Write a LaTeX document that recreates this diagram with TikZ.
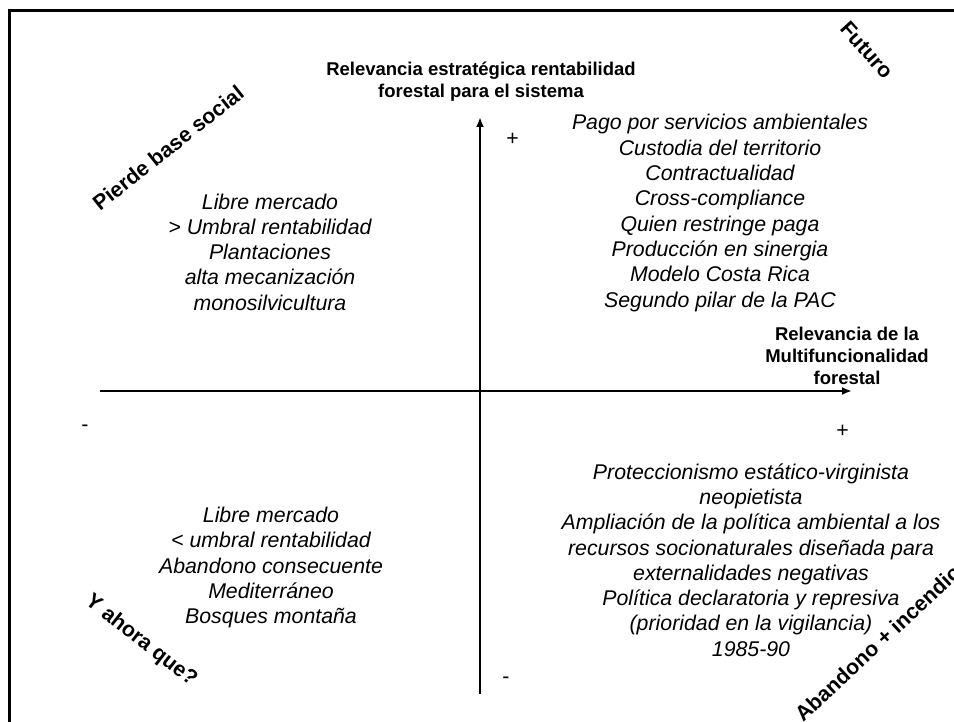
\documentclass[tikz,border=0pt]{standalone}
\usepackage{fontspec}
\setmainfont{Liberation Sans}
\usetikzlibrary{arrows.meta}
\tikzstyle{lista}=[align=center, inner sep=0pt, font=\itshape\fontsize{21.3}{25.3}\selectfont]
\tikzstyle{eje}=[align=center, inner sep=0pt, font=\bfseries\fontsize{18.5}{22}\selectfont]
\tikzstyle{esquina}=[inner sep=0pt, font=\bfseries\fontsize{21.3}{25}\selectfont]
\tikzstyle{signo}=[inner sep=0pt, font=\fontsize{21.3}{25}\selectfont]

\begin{document}
\begin{tikzpicture}[x=1pt,y=-1pt,>={Latex[length=10pt,width=8pt]}]
      \useasboundingbox (0,0) rectangle (954,722);
      % marco
      \draw[line width=3pt] (9,740) -- (9,11) -- (970,11);

      % ejes
      \coordinate (ybot) at (480,694);
      \coordinate (ytop) at (480,117);
      \coordinate (xizq) at (100,391);
      \coordinate (xder) at (852,391);
      \draw[->, line width=2pt] (ybot) -- (ytop);
      \draw[->, line width=2pt] (xizq) -- (xder);

      \node[eje] (yeje) at (481,82) {Relevancia estratégica rentabilidad\\forestal para el sistema};
      \node[eje] (xeje) at (847,356) {Relevancia de la\\Multifuncionalidad\\forestal};

      \node[signo] (ymas) at (512.5,139.5) {+};
      \node[signo] (xmas) at (842.5,431) {+};
      \node[signo] (xmenos) at (85,428) {-};
      \node[signo] (ymenos) at (506,680) {-};

      % cuadrantes
      \node[lista] (futuro-txt) at (720,213) {Pago por servicios ambientales\\Custodia del territorio\\Contractualidad\\Cross-compliance\\Quien restringe paga\\Producción en sinergia\\Modelo Costa Rica\\Segundo pilar de la PAC};
      \node[lista] (pierde-txt) at (270,252) {Libre mercado\\> Umbral rentabilidad\\Plantaciones\\alta mecanización\\monosilvicultura};
      \node[lista] (yahora-txt) at (271,567.5) {Libre mercado\\< umbral rentabilidad\\Abandono consecuente\\Mediterráneo\\Bosques montaña};
      \node[lista] (abandono-txt) at (751,560) {Proteccionismo estático-virginista\\neopietista\\Ampliación de la política ambiental a los\\recursos socionaturales diseñada para\\externalidades negativas\\Política declaratoria y represiva\\(prioridad en la vigilancia)\\1985-90};

      % esquinas
      \node[esquina, rotate=38.5] (pierde) at (168,148) {Pierde base social};
      \node[esquina, rotate=-48] (futuro) at (867,50) {Futuro};
      \node[esquina, rotate=-38] (yahora) at (141,641) {Y ahora que?};
      \node[esquina, rotate=43] (abandono) at (882,639) {Abandono + incendios};
  \end{tikzpicture}
\end{document}
